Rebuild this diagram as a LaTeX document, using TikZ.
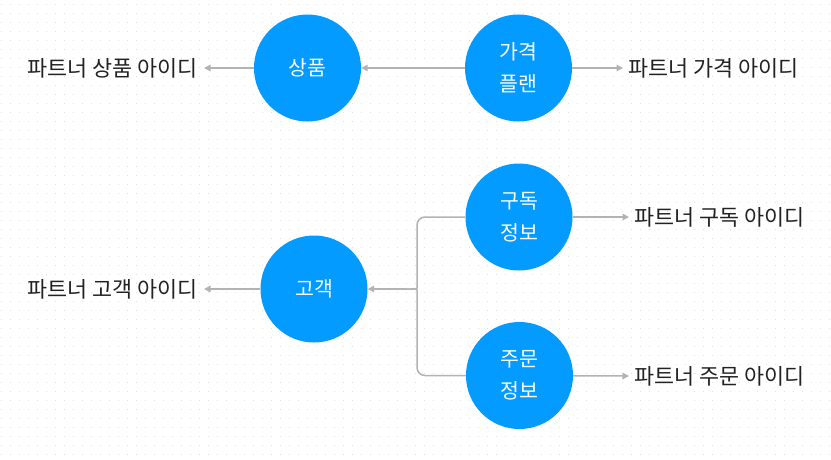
\documentclass[tikz,border=0pt]{standalone}
\usepackage{fontspec}
\setmainfont{Noto Sans CJK KR}
\usepackage{tikz}
\usetikzlibrary{arrows.meta,positioning}
\definecolor{entityblue}{HTML}{039BFF}
\definecolor{linkgray}{HTML}{B3B3B3}
\definecolor{textdark}{HTML}{222222}
\definecolor{dotgray}{HTML}{E0E0E0}
\tikzset
{
    entity/.style  = {circle, fill=entityblue, text=white, minimum size=107pt, inner sep=0pt, align=center, font=\fontsize{20.5}{32}\selectfont},
    idlabel/.style = {text=textdark, inner sep=0pt, font=\fontsize{21.8}{25}\selectfont},
    link/.style    = {draw=linkgray, line width=1.5pt, -{Triangle[length=6.5pt,width=6.5pt]}},
    joinline/.style = {draw=linkgray, line width=1.5pt, rounded corners=8pt}
}
\begin{document}
\begin{tikzpicture}[x=1pt,y=-1pt]
    \useasboundingbox[fill=white] (0,0) rectangle (831,459);
    % dotted background
    \foreach \i in {0,...,92}
        \foreach \j in {0,...,50}
            \fill[dotgray] (1+9*\i-0.5,5+9*\j-0.5) rectangle ++(1,-1);

    \node [entity] (sangpum) at (307.5,68) {상품};
    \node [entity] (gagyeok) at (518.5,68) {가격\\플랜};
    \node [entity] (gogaek) at (314,289) {고객};
    \node [entity] (gudok) at (519,217) {구독\\정보};
    \node [entity] (jumun) at (519.5,375.5) {주문\\정보};

    \node [idlabel, anchor=east] (sangpumid) at (198,68) {파트너 상품 아이디};
    \node [idlabel, anchor=west] (gagyeokid) at (628,68) {파트너 가격 아이디};
    \node [idlabel, anchor=east] (gogaekid) at (198,289) {파트너 고객 아이디};
    \node [idlabel, anchor=west] (gudokid) at (634,217) {파트너 구독 아이디};
    \node [idlabel, anchor=west] (jumunid) at (634,376) {파트너 주문 아이디};

    \draw [link] (sangpum) -- ([xshift=6pt]sangpumid.east);
    \draw [link] (gagyeok) -- (sangpum);
    \draw [link] (gagyeok) -- ([xshift=-5pt]gagyeokid.west);
    \draw [link] (gudok) -- ([xshift=-5pt]gudokid.west);
    \draw [link] (jumun) -- ([xshift=-5pt]jumunid.west);
    \draw [link] (gogaek) -- ([xshift=6pt]gogaekid.east);

    % junction of the two branches
    \coordinate (joint) at (407,289);
    \draw [joinline] (gudok.west) -| (417,280) .. controls (417,289) .. (joint);
    \draw [joinline] (jumun.west) -| (417,298) .. controls (417,289) .. (joint);
    \draw [link] (joint) -- (gogaek);
\end{tikzpicture}
\end{document}
